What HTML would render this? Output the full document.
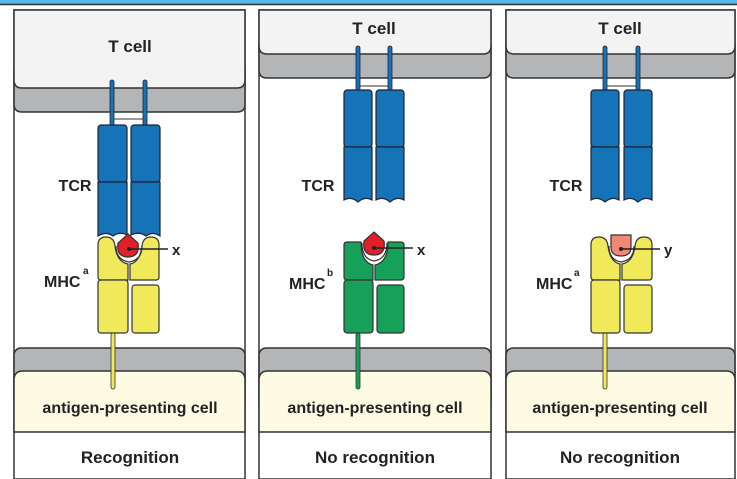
<!DOCTYPE html>
<html><head><meta charset="utf-8"><style>
html,body{margin:0;padding:0;background:#fff;}
svg{display:block;}
text{font-family:"Liberation Sans",Arial,sans-serif;font-weight:bold;fill:#222;}
</style></head><body>
<svg width="737" height="479" viewBox="0 0 737 479" xmlns="http://www.w3.org/2000/svg">
<rect x="0" y="0" width="737" height="4" fill="#55b8e6"/>
<line x1="0" y1="4.5" x2="737" y2="4.5" stroke="#333" stroke-width="1.5"/>

<!-- Panel 1 -->
<g>
<rect x="14" y="10" width="231" height="469" fill="#fff" stroke="#333" stroke-width="1.5"/>
<path d="M14 70 H245 V104 Q245 112 237 112 H22 Q14 112 14 104 Z" fill="#b4b5b7" stroke="#333" stroke-width="1.5"/>
<path d="M14 10 H245 V80 Q245 88 237 88 H22 Q14 88 14 80 Z" fill="#f3f3f3" stroke="#333" stroke-width="1.5"/>
<path d="M14 356 Q14 348 22 348 H237 Q245 348 245 356 V400 H14 Z" fill="#b4b5b7" stroke="#333" stroke-width="1.5"/>
<path d="M14 380 Q14 371 23 371 H236 Q245 371 245 380 V432 H14 Z" fill="#fdfbe4" stroke="#333" stroke-width="1.5"/>
<text x="130" y="52" font-size="17" text-anchor="middle">T cell</text>
<text x="130" y="413" font-size="16" text-anchor="middle">antigen-presenting cell</text>
<text x="130" y="463" font-size="17" text-anchor="middle">Recognition</text>
<rect x="110" y="80" width="4" height="46" rx="2" fill="#1574b8" stroke="#223" stroke-width="0.8"/>
<rect x="143" y="80" width="4" height="46" rx="2" fill="#1574b8" stroke="#223" stroke-width="0.8"/>
<line x1="114" y1="119" x2="143" y2="119" stroke="#333" stroke-width="1"/>
<rect x="98" y="125" width="29" height="57" rx="3" fill="#1574b8" stroke="#223" stroke-width="1.2"/>
<rect x="131" y="125" width="29" height="57" rx="3" fill="#1574b8" stroke="#223" stroke-width="1.2"/>
<path d="M98 182 H127 V235 Q120 231 113 236 Q106 231 98 236 Z" fill="#1574b8" stroke="#223" stroke-width="1.2"/>
<path d="M131 182 H160 V236 Q153 231 146 236 Q139 231 131 235 Z" fill="#1574b8" stroke="#223" stroke-width="1.2"/>
<path d="M98 245 Q98 237 106 237 Q114 237 115 246 Q117 262 128 264 L128 280 H101 Q98 280 98 277 Z" fill="#f0ea5a" stroke="#333" stroke-width="1.2"/>
<path d="M159 245 Q159 237 151 237 Q143 237 142 246 Q140 262 130 264 L130 280 H156 Q159 280 159 277 Z" fill="#f0ea5a" stroke="#333" stroke-width="1.2"/>
<rect x="98" y="280" width="30" height="53" rx="3" fill="#f0ea5a" stroke="#333" stroke-width="1.2"/>
<rect x="132" y="285" width="27" height="48" rx="3" fill="#f0ea5a" stroke="#333" stroke-width="1.2"/>
<rect x="111" y="333" width="4" height="56" rx="2" fill="#f0ea5a" stroke="#333" stroke-width="0.8"/>
<path d="M116 246 Q116 260 129 262 Q142 260 142 246" fill="none" stroke="#333" stroke-width="1.2"/>
<path d="M128 234 L138 243 Q140 257 128 257 Q116 257 118 243 Z" fill="#e01f2a" stroke="#333" stroke-width="1.2"/>
<circle cx="129" cy="249" r="2" fill="#222"/>
<line x1="129" y1="249" x2="168" y2="249" stroke="#222" stroke-width="1.5"/>
<text x="172" y="255" font-size="15">x</text>
<text x="75" y="191" font-size="16" text-anchor="middle">TCR</text>
<text x="44" y="287" font-size="16">MHC</text><text x="83" y="274" font-size="10">a</text>
</g>

<!-- Panel 2 -->
<g>
<rect x="259" y="10" width="232" height="469" fill="#fff" stroke="#333" stroke-width="1.5"/>
<path d="M259 45 H491 V70 Q491 78 483 78 H267 Q259 78 259 70 Z" fill="#b4b5b7" stroke="#333" stroke-width="1.5"/>
<path d="M259 10 H491 V46 Q491 54 483 54 H267 Q259 54 259 46 Z" fill="#f3f3f3" stroke="#333" stroke-width="1.5"/>
<path d="M259 356 Q259 348 267 348 H483 Q491 348 491 356 V400 H259 Z" fill="#b4b5b7" stroke="#333" stroke-width="1.5"/>
<path d="M259 380 Q259 371 268 371 H482 Q491 371 491 380 V432 H259 Z" fill="#fdfbe4" stroke="#333" stroke-width="1.5"/>
<text x="374" y="34" font-size="17" text-anchor="middle">T cell</text>
<text x="375" y="413" font-size="16" text-anchor="middle">antigen-presenting cell</text>
<text x="375" y="463" font-size="17" text-anchor="middle">No recognition</text>
<rect x="356" y="46" width="4" height="45" rx="2" fill="#1574b8" stroke="#223" stroke-width="0.8"/>
<rect x="388" y="46" width="4" height="45" rx="2" fill="#1574b8" stroke="#223" stroke-width="0.8"/>
<line x1="360" y1="86" x2="388" y2="86" stroke="#333" stroke-width="1"/>
<rect x="344" y="90" width="28" height="57" rx="3" fill="#1574b8" stroke="#223" stroke-width="1.2"/>
<rect x="376" y="90" width="28" height="57" rx="3" fill="#1574b8" stroke="#223" stroke-width="1.2"/>
<path d="M344 147 H372 V200 Q365 196 358 202 Q351 196 344 200 Z" fill="#1574b8" stroke="#223" stroke-width="1.2"/>
<path d="M376 147 H404 V200 Q397 196 390 202 Q383 196 376 200 Z" fill="#1574b8" stroke="#223" stroke-width="1.2"/>
<path d="M344 245 Q344 242 347 242 H361 Q361 262 373 265 V280 H347 Q344 280 344 277 Z" fill="#16a05a" stroke="#333" stroke-width="1.2"/>
<path d="M404 245 Q404 242 401 242 H388 Q388 262 375 265 V280 H401 Q404 280 404 277 Z" fill="#16a05a" stroke="#333" stroke-width="1.2"/>
<rect x="344" y="280" width="29" height="53" rx="3" fill="#16a05a" stroke="#333" stroke-width="1.2"/>
<rect x="377" y="285" width="27" height="48" rx="3" fill="#16a05a" stroke="#333" stroke-width="1.2"/>
<rect x="356" y="333" width="4" height="56" rx="2" fill="#16a05a" stroke="#333" stroke-width="0.8"/>
<path d="M362 243 Q362 259 374 261 Q387 259 387 243" fill="none" stroke="#333" stroke-width="1.2"/>
<path d="M374 232 L384 241 Q386 255 374 255 Q362 255 364 241 Z" fill="#e01f2a" stroke="#333" stroke-width="1.2"/>
<circle cx="374" cy="248" r="2" fill="#222"/>
<line x1="374" y1="248" x2="413" y2="248" stroke="#222" stroke-width="1.5"/>
<text x="417" y="255" font-size="15">x</text>
<text x="318" y="191" font-size="16" text-anchor="middle">TCR</text>
<text x="289" y="289" font-size="16">MHC</text><text x="327" y="276" font-size="10">b</text>
</g>

<!-- Panel 3 -->
<g>
<rect x="506" y="10" width="229" height="469" fill="#fff" stroke="#333" stroke-width="1.5"/>
<path d="M506 45 H735 V70 Q735 78 727 78 H514 Q506 78 506 70 Z" fill="#b4b5b7" stroke="#333" stroke-width="1.5"/>
<path d="M506 10 H735 V46 Q735 54 727 54 H514 Q506 54 506 46 Z" fill="#f3f3f3" stroke="#333" stroke-width="1.5"/>
<path d="M506 356 Q506 348 514 348 H727 Q735 348 735 356 V400 H506 Z" fill="#b4b5b7" stroke="#333" stroke-width="1.5"/>
<path d="M506 380 Q506 371 515 371 H726 Q735 371 735 380 V432 H506 Z" fill="#fdfbe4" stroke="#333" stroke-width="1.5"/>
<text x="620" y="34" font-size="17" text-anchor="middle">T cell</text>
<text x="620" y="413" font-size="16" text-anchor="middle">antigen-presenting cell</text>
<text x="620" y="463" font-size="17" text-anchor="middle">No recognition</text>
<rect x="603" y="46" width="4" height="45" rx="2" fill="#1574b8" stroke="#223" stroke-width="0.8"/>
<rect x="636" y="46" width="4" height="45" rx="2" fill="#1574b8" stroke="#223" stroke-width="0.8"/>
<line x1="607" y1="86" x2="636" y2="86" stroke="#333" stroke-width="1"/>
<rect x="591" y="90" width="28" height="57" rx="3" fill="#1574b8" stroke="#223" stroke-width="1.2"/>
<rect x="624" y="90" width="28" height="57" rx="3" fill="#1574b8" stroke="#223" stroke-width="1.2"/>
<path d="M591 147 H619 V200 Q612 196 605 202 Q598 196 591 200 Z" fill="#1574b8" stroke="#223" stroke-width="1.2"/>
<path d="M624 147 H652 V200 Q645 196 638 202 Q631 196 624 200 Z" fill="#1574b8" stroke="#223" stroke-width="1.2"/>
<path d="M591 245 Q591 237 599 237 Q607 237 608 246 Q610 262 620 264 V280 H594 Q591 280 591 277 Z" fill="#f0ea5a" stroke="#333" stroke-width="1.2"/>
<path d="M652 245 Q652 237 644 237 Q636 237 635 246 Q633 262 622 264 V280 H649 Q652 280 652 277 Z" fill="#f0ea5a" stroke="#333" stroke-width="1.2"/>
<rect x="591" y="280" width="29" height="53" rx="3" fill="#f0ea5a" stroke="#333" stroke-width="1.2"/>
<rect x="624" y="285" width="28" height="48" rx="3" fill="#f0ea5a" stroke="#333" stroke-width="1.2"/>
<rect x="603" y="333" width="4" height="56" rx="2" fill="#f0ea5a" stroke="#333" stroke-width="0.8"/>
<path d="M609 246 Q609 260 621 262 Q634 260 634 246" fill="none" stroke="#333" stroke-width="1.2"/>
<path d="M611 235 H631 V247 Q631 256 621 256 Q611 256 611 247 Z" fill="#f08878" stroke="#333" stroke-width="1.2"/>
<circle cx="621" cy="249" r="2" fill="#222"/>
<line x1="621" y1="249" x2="660" y2="249" stroke="#222" stroke-width="1.5"/>
<text x="664" y="255" font-size="15">y</text>
<text x="566" y="191" font-size="16" text-anchor="middle">TCR</text>
<text x="536" y="289" font-size="16">MHC</text><text x="574" y="276" font-size="10">a</text>
</g>
</svg>
</body></html>
